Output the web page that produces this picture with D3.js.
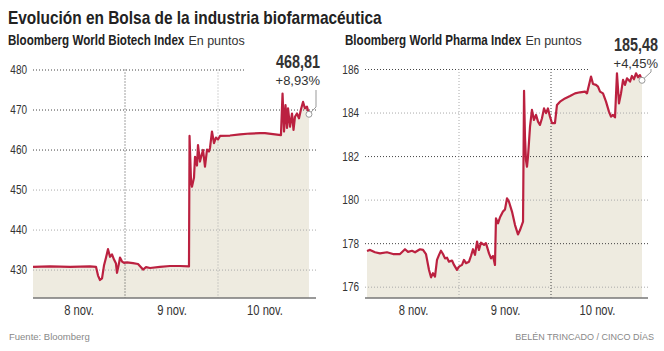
<!DOCTYPE html>
<html>
<head>
<meta charset="utf-8">
<script src="https://cdnjs.cloudflare.com/ajax/libs/d3/7.8.5/d3.min.js"></script>
<style>
  body { margin: 0; background: #fff; }
  svg text { font-family: "Liberation Sans", Arial, sans-serif; fill: #333; }
</style>
</head>
<body>
<div id="container"></div>
<script>
// time is in days since the open of 8 nov. (0 = 8 nov., 1 = 9 nov., 2 = 10 nov.)
const dayLabels = ["8 nov.", "9 nov.", "10 nov."]
const dayCenters = [0.5, 1.5, 2.5]

const biotechTicks = [430, 440, 450, 460, 470, 480]
const pharmaTicks = [176, 178, 180, 182, 184, 186]

const biotech = [
  [0.011,430.7],[0.194,430.8],[0.409,430.7],[0.624,430.8],[0.688,430.7],[0.710,428.5],[0.731,427.4],
  [0.753,427.8],[0.774,431],[0.796,433],[0.817,435.1],[0.839,433.2],[0.860,433.8],[0.882,432.5],
  [0.903,431.5],[0.914,429.2],[0.935,431.5],[0.946,433],[0.968,432],[0.989,431.7],[1.022,431.8],
  [1.086,431.6],[1.140,431.4],[1.172,430.6],[1.194,430.0],[1.226,430.6],[1.269,430.4],[1.376,430.7],
  [1.484,430.9],[1.591,430.9],[1.688,430.8],[1.694,463.4],[1.710,452],[1.720,450.7],[1.742,453],
  [1.753,458.2],[1.774,456],[1.785,461.1],[1.806,457],[1.828,459],[1.839,459.9],[1.860,455.7],
  [1.882,460],[1.903,459.5],[1.914,460.4],[1.935,464.5],[1.957,461.6],[1.978,463],[2.000,462.5],
  [2.022,463.4],[2.129,463.5],[2.237,463.8],[2.344,464.0],[2.452,464.1],[2.505,464.1],[2.613,463.8],
  [2.677,463.6],[2.694,474],[2.710,464.5],[2.726,471.1],[2.742,465.4],[2.753,470.3],[2.774,465.7],
  [2.796,469],[2.812,464.9],[2.828,468.2],[2.849,469],[2.871,467.8],[2.892,470],[2.914,471.9],
  [2.935,470.3],[2.957,470.7],[2.978,468.81]
]

const pharma = [
  [0.000,177.64],[0.033,177.69],[0.087,177.58],[0.141,177.53],[0.217,177.58],[0.283,177.5],[0.359,177.5],
  [0.413,177.72],[0.446,177.6],[0.489,177.65],[0.522,177.58],[0.576,177.72],[0.609,177.69],[0.641,177.5],
  [0.674,176.77],[0.696,176.43],[0.717,176.62],[0.739,176.46],[0.761,177.23],[0.783,177.46],[0.804,177.65],
  [0.826,177.5],[0.848,177.3],[0.870,177.33],[0.891,177.15],[0.924,177.2],[0.946,177.0],[0.978,176.77],
  [1.000,176.92],[1.033,177.0],[1.054,177.23],[1.076,177.08],[1.109,177.15],[1.130,177.41],[1.152,177.72],
  [1.174,177.46],[1.196,178.07],[1.217,177.69],[1.239,178.02],[1.272,177.92],[1.293,178],[1.326,177.53],
  [1.348,177.3],[1.370,177.41],[1.391,177.0],[1.402,179.14],[1.424,178.91],[1.446,179.19],[1.478,179.45],
  [1.500,179.55],[1.522,180.06],[1.543,179.9],[1.576,179.45],[1.609,178.83],[1.641,178.4],[1.663,178.6],
  [1.696,178.99],[1.707,185.0],[1.717,182.89],[1.728,181.82],[1.739,181.51],[1.750,181.97],[1.772,183.35],
  [1.793,184.12],[1.815,183.66],[1.837,183.89],[1.859,183.58],[1.880,183.43],[1.902,183.74],[1.924,184.19],
  [1.946,183.97],[1.967,184.19],[1.989,183.81],[2.011,183.51],[2.043,183.51],[2.065,184.35],[2.098,184.5],
  [2.152,184.65],[2.207,184.76],[2.261,184.88],[2.315,184.93],[2.370,184.96],[2.391,184.88],[2.413,185.27],
  [2.435,185.65],[2.457,185.31],[2.489,185.27],[2.511,185.19],[2.533,184.96],[2.565,184.88],[2.598,184.5],
  [2.630,184.04],[2.652,183.81],[2.674,183.89],[2.696,183.78],[2.717,185.8],[2.739,184.42],[2.761,184.88],
  [2.783,185.5],[2.804,185.27],[2.826,185.57],[2.859,185.42],[2.880,185.68],[2.902,185.53],[2.924,185.8],
  [2.946,185.62],[2.967,185.72],[2.989,185.48]
]

const W = 664, H = 351
const bottom = 298
const narrow = 0.8   // no condensed font installed, so squeeze the glyphs

// fake a condensed face: scale each text horizontally around its own anchor point
function condense(sel, k) {
  sel.each(function () {
    const t = d3.select(this)
    const x = +t.attr("x") || 0, y = +t.attr("y") || 0
    t.attr("transform", `translate(${x},${y}) scale(${k},1) translate(${-x},${-y})`)
  })
  return sel
}

const svg = d3.select("#container")
  .append("svg")
  .attr("width", W)
  .attr("height", H)

// title + footers
const title = svg.append("text")
  .attr("x", 8).attr("y", 24)
  .style("font-size", "18px").style("font-weight", "bold").style("fill", "#222")
  .text("Evolución en Bolsa de la industria biofarmacéutica")
condense(title, 374 / title.node().getComputedTextLength())

svg.append("text")
  .attr("x", 9).attr("y", 340)
  .style("font-size", "9.5px").style("fill", "#888")
  .text("Fuente: Bloomberg")

svg.append("text")
  .attr("x", 654).attr("y", 340)
  .attr("text-anchor", "end")
  .style("font-size", "9px").style("fill", "#888")
  .text("BELÉN TRINCADO / CINCO DÍAS")

function panel(o) {
  const g = svg.append("g")

  const x = d3.scaleLinear().domain([0, 3]).range(o.xRange)
  const y = d3.scaleLinear().domain(o.yDomain).range([bottom, o.yTop])

  // subtitle: bold index name, then the unit in regular weight
  const sub = g.append("text").attr("x", o.subX).attr("y", 45)
    .style("font-size", "14.5px").style("font-weight", "bold").style("fill", "#222")
    .text(o.name)
  const subW = sub.node().getComputedTextLength() * narrow
  condense(sub, narrow)
  g.append("text").attr("x", o.subX + subW + 4).attr("y", 45)
    .style("font-size", "12.5px").style("fill", "#333")
    .text("En puntos")

  // fill under the line
  const area = d3.area()
    .x(d => x(d[0]))
    .y0(bottom)
    .y1(d => y(d[1]))
  g.append("path")
    .datum(o.data)
    .attr("d", area)
    .attr("fill", "#eeebe0")

  // horizontal grid + labels
  const yAxis = g.append("g")
    .attr("transform", `translate(${o.gridLeft},0)`)
    .call(d3.axisLeft(y).tickValues(o.ticks).tickSize(-(o.gridRight - o.gridLeft)).tickPadding(6))
  yAxis.select(".domain").remove()
  yAxis.selectAll(".tick line")
    .attr("stroke", d => o.darkY.includes(d) ? "#444" : "#aaa")
    .attr("stroke-dasharray", "1,2")
    .attr("x2", d => d === o.ticks[o.ticks.length - 1] ? o.topGridEnd - o.gridLeft : o.gridRight - o.gridLeft)
  condense(yAxis.selectAll(".tick text")
    .style("font-size", "12.5px").style("fill", "#333")
    .style("font-family", "'Liberation Sans', Arial, sans-serif"), narrow)

  // day separators
  g.selectAll(".vgrid")
    .data([1, 2])
    .join("line")
    .attr("x1", d => x(d)).attr("x2", d => x(d))
    .attr("y1", y(o.ticks[o.ticks.length - 1])).attr("y2", bottom)
    .attr("stroke", d => d === o.darkDay ? "#444" : "#aaa")
    .attr("stroke-dasharray", "1,2")

  // the line itself
  g.append("path")
    .datum(o.data)
    .attr("d", d3.line().x(d => x(d[0])).y(d => y(d[1])))
    .attr("fill", "none")
    .attr("stroke", "#bb2140")
    .attr("stroke-width", 2.2)
    .attr("stroke-linejoin", "round")

  // x axis
  g.append("line")
    .attr("x1", o.gridLeft).attr("x2", o.gridRight)
    .attr("y1", bottom).attr("y2", bottom)
    .attr("stroke", "#777").attr("stroke-width", 1.5)
  const xAxis = g.append("g")
    .attr("transform", `translate(0,${bottom})`)
    .call(d3.axisBottom(x).tickValues(dayCenters).tickSize(0).tickPadding(7)
      .tickFormat((d, i) => dayLabels[i]))
  xAxis.select(".domain").remove()
  condense(xAxis.selectAll(".tick text")
    .style("font-size", "14px").style("fill", "#333")
    .style("font-family", "'Liberation Sans', Arial, sans-serif"), narrow)

  // last value annotation
  const last = o.data[o.data.length - 1]
  const lx = x(last[0]), ly = y(last[1])
  g.append("path")
    .attr("d", `M${o.leader[0]},${o.leader[1]}V${o.leader[2]}L${lx},${ly}`)
    .attr("fill", "none").attr("stroke", "#999").attr("stroke-width", 1)
  g.append("circle")
    .attr("cx", lx).attr("cy", ly).attr("r", 3)
    .attr("fill", "#fff").attr("stroke", "#999")
  condense(g.append("text")
    .attr("x", o.labelX).attr("y", o.labelY)
    .attr("text-anchor", "end")
    .style("font-size", "18px").style("font-weight", "bold").style("fill", "#333")
    .text(d3.format(".2f")(last[1]).replace(".", ",")), narrow)
  g.append("text")
    .attr("x", o.labelX).attr("y", o.labelY + 17)
    .attr("text-anchor", "end")
    .style("font-size", "13px").style("fill", "#333")
    .text(o.change)
}

panel({
  name: "Bloomberg World Biotech Index",
  subX: 8,
  data: biotech,
  ticks: biotechTicks,
  yDomain: [422.9, 480],
  yTop: 69.5,
  xRange: [32, 311],
  gridLeft: 33, gridRight: 316, topGridEnd: 245,
  darkY: [460, 470, 480],
  darkDay: 1,
  labelX: 320, labelY: 68,
  leader: [316, 90, 107],
  change: "+8,93%"
})

panel({
  name: "Bloomberg World Pharma Index",
  subX: 345,
  data: pharma,
  ticks: pharmaTicks,
  yDomain: [175.48, 186],
  yTop: 69,
  xRange: [367, 643],
  gridLeft: 365, gridRight: 648, topGridEnd: 590,
  darkY: [186, 182, 178],
  darkDay: 2,
  labelX: 658, labelY: 51,
  leader: [651, 69, 72],
  change: "+4,45%"
})
</script>
</body>
</html>
